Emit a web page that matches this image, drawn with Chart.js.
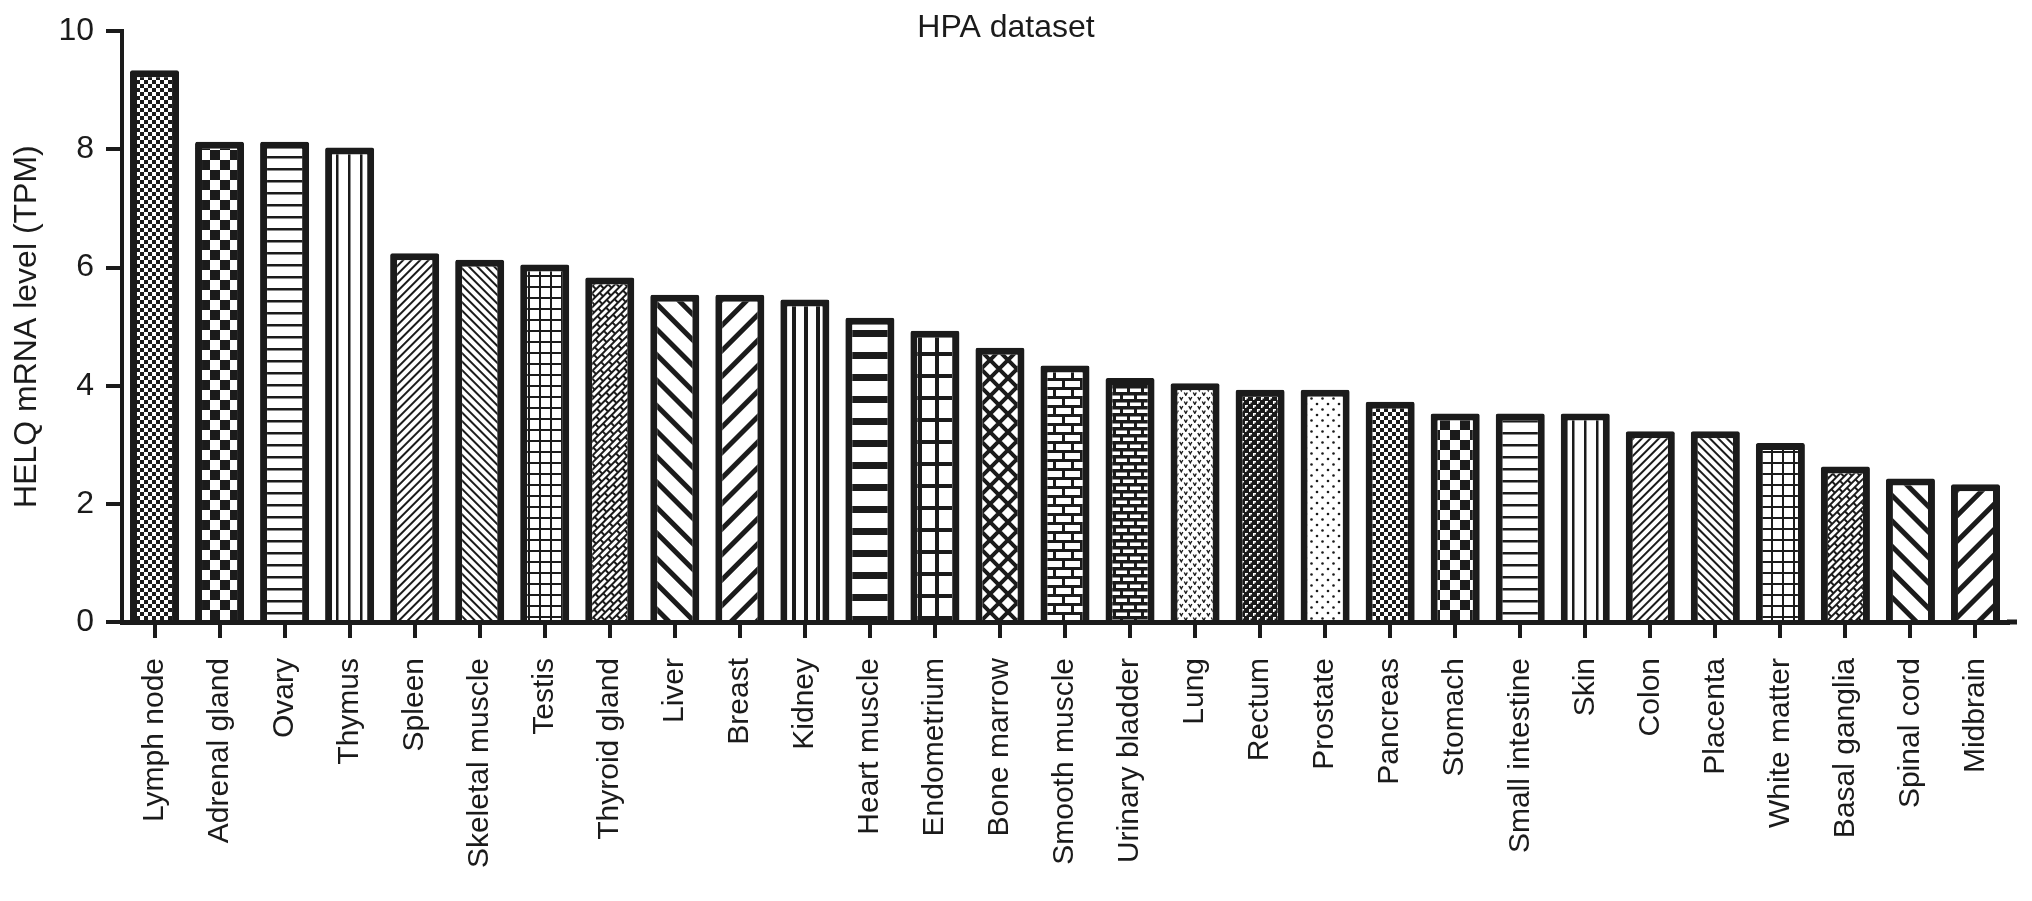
<!DOCTYPE html>
<html>
<head>
<meta charset="utf-8">
<script src="https://cdn.jsdelivr.net/npm/chart.js@4.4.1/dist/chart.umd.min.js"></script>
<style>
  html, body { margin: 0; padding: 0; background: #fff; }
  #wrap { width: 2032px; height: 901px; position: relative; }
</style>
</head>
<body>
<div id="wrap"><canvas id="c"></canvas></div>
<script>
// ---- data ----
const categories = ['Lymph node','Adrenal gland','Ovary','Thymus','Spleen','Skeletal muscle','Testis','Thyroid gland','Liver','Breast','Kidney','Heart muscle','Endometrium','Bone marrow','Smooth muscle','Urinary bladder','Lung','Rectum','Prostate','Pancreas','Stomach','Small intestine','Skin','Colon','Placenta','White matter','Basal ganglia','Spinal cord','Midbrain'];
const values = [9.34, 8.13, 8.13, 8.03, 6.24, 6.13, 6.05, 5.83, 5.54, 5.54, 5.46, 5.15, 4.93, 4.64, 4.34, 4.13, 4.04, 3.93, 3.93, 3.73, 3.53, 3.53, 3.53, 3.23, 3.23, 3.03, 2.63, 2.43, 2.33];
const yTicks = [0, 2, 4, 6, 8, 10];
const chartTitle = 'HPA dataset';
const yTitle = 'HELQ mRNA level (TPM)';

// ---- styles ----
const INK = '#1b1b1b';
const FONT = "'Liberation Sans', Arial, sans-serif";
const canvas = document.getElementById('c');
const ctx = canvas.getContext('2d');

function tile(w, h, fn, bg) {
  const c = document.createElement('canvas'); c.width = w; c.height = h;
  const g = c.getContext('2d');
  g.fillStyle = bg || '#fff'; g.fillRect(0, 0, w, h);
  g.fillStyle = INK; g.strokeStyle = INK;
  fn(g, w, h);
  return c;
}
function pat(c, angle) {
  const p = ctx.createPattern(c, 'repeat');
  if (angle) p.setTransform(new DOMMatrix().rotate(angle));
  return p;
}
function diamondTile(s, lw) {
  return tile(s, s, g => {
    g.lineWidth = lw;
    g.beginPath();
    for (const k of [-1, 0, 1]) {
      g.moveTo(-s, -s + k * s); g.lineTo(2 * s, 2 * s + k * s);
      g.moveTo(-s, 2 * s + k * s); g.lineTo(2 * s, -s + k * s);
    }
    g.stroke();
  });
}
const patternList = [
  // 0 fine checker
  pat(tile(8, 8, g => { g.fillRect(0, 0, 4, 4); g.fillRect(4, 4, 4, 4); })),
  // 1 big checker
  pat(tile(20, 20, g => { g.fillRect(0, 0, 10, 10); g.fillRect(10, 10, 10, 10); })),
  // 2 horizontal thin lines
  pat(tile(4, 12, g => { g.fillRect(0, 0, 4, 2.5); })),
  // 3 vertical thin lines
  pat(tile(12, 4, g => { g.fillRect(0, 0, 2.5, 4); })),
  // 4 fine diag /
  pat(tile(4, 6, g => { g.fillRect(0, 0, 4, 2); }), -45),
  // 5 fine diag \
  pat(tile(4, 6, g => { g.fillRect(0, 0, 4, 2); }), 45),
  // 6 fine grid
  pat(tile(11, 11, g => { g.fillRect(0, 0, 11, 2); g.fillRect(0, 0, 2, 11); })),
  // 7 diagonal brick
  pat(tile(12, 10, g => { g.fillRect(0, 0, 12, 2); g.fillRect(0, 5, 12, 2); g.fillRect(0, 0, 2, 5); g.fillRect(6, 5, 2, 5); }), -45),
  // 8 wide diag \
  pat(tile(4, 18, g => { g.fillRect(0, 0, 4, 5); }), 45),
  // 9 wide diag /
  pat(tile(4, 18, g => { g.fillRect(0, 0, 4, 5); }), -45),
  // 10 thick vertical lines
  pat(tile(12, 4, g => { g.fillRect(0, 0, 4, 4); })),
  // 11 thick horizontal lines
  pat(tile(4, 22, g => { g.fillRect(0, 0, 4, 7); })),
  // 12 thick grid
  pat(tile(17, 22, g => { g.fillRect(0, 0, 17, 4); g.fillRect(0, 0, 4, 22); })),
  // 13 diamonds
  pat(diamondTile(18, 4)),
  // 14 brick
  pat(tile(18, 18, g => { g.fillRect(0, 0, 18, 3); g.fillRect(0, 9, 18, 3); g.fillRect(0, 0, 3, 9); g.fillRect(9, 9, 3, 9); })),
  // 15 small brick
  pat(tile(14, 14, g => { g.fillRect(0, 0, 14, 3.5); g.fillRect(0, 7, 14, 3.5); g.fillRect(0, 0, 3, 7); g.fillRect(7, 7, 3, 7); })),
  // 16 small v marks
  pat(tile(9, 9, g => {
    g.lineWidth = 1.4;
    g.beginPath();
    g.moveTo(0.8, 1); g.lineTo(2.3, 3.8); g.lineTo(3.8, 1);
    g.moveTo(5.3, 5.5); g.lineTo(6.8, 8.3); g.lineTo(8.3, 5.5);
    g.stroke();
  })),
  // 17 dark speckle
  pat(tile(8, 8, g => {
    g.fillStyle = '#fff';
    g.fillRect(1, 1, 3, 1.5); g.fillRect(1, 1, 1.5, 3);
    g.fillRect(5, 5, 3, 1.5); g.fillRect(5, 5, 1.5, 3);
  }, INK)),
  // 18 sparse dots
  pat(tile(11, 11, g => {
    g.beginPath(); g.arc(2.5, 2.5, 1.3, 0, Math.PI * 2); g.fill();
    g.beginPath(); g.arc(8, 8, 1.3, 0, Math.PI * 2); g.fill();
  }))
];
const barFills = categories.map((_, i) => patternList[i % patternList.length]);

const titlePlugin = {
  id: 'topTitle',
  afterDraw(chart) {
    const c = chart.ctx;
    c.save();
    c.fillStyle = INK;
    c.font = '32px ' + FONT;
    c.textAlign = 'center';
    c.textBaseline = 'alphabetic';
    c.fillText(chartTitle, chart.width / 2 - 10, 37);
    // small extension of x-axis line past the last category
    const a = chart.chartArea;
    c.fillRect(a.right - 1, a.bottom - 2.5, 10, 5);
    c.restore();
  }
};

new Chart(ctx, {
  type: 'bar',
  data: {
    labels: categories,
    datasets: [{
      data: values,
      backgroundColor: barFills,
      borderColor: INK,
      borderWidth: 7,
      borderSkipped: 'start',
      borderRadius: 2,
      barPercentage: 0.754,
      categoryPercentage: 1.0
    }]
  },
  options: {
    responsive: true,
    maintainAspectRatio: false,
    animation: false,
    events: [],
    layout: { padding: { top: 28, right: 24, bottom: 0, left: 0 } },
    plugins: { legend: { display: false }, tooltip: { enabled: false }, title: { display: false } },
    scales: {
      x: {
        offset: true,
        grid: { offset: false, drawOnChartArea: false, drawTicks: true, tickLength: 16, lineWidth: 4, color: INK },
        border: { display: true, width: 5, color: INK },
        ticks: { autoSkip: false, maxRotation: 90, minRotation: 90, padding: 20, color: INK, font: { family: FONT, size: 30 } },
        afterFit(s) { s.height = 279; }
      },
      y: {
        min: 0, max: 10,
        afterBuildTicks(s) { s.ticks = yTicks.map(v => ({ value: v })); },
        grid: { drawOnChartArea: false, drawTicks: true, tickLength: 16, lineWidth: 4, color: INK },
        border: { display: true, width: 4, color: INK },
        ticks: { padding: 12, color: INK, font: { family: FONT, size: 32 } },
        title: { display: true, text: yTitle, color: INK, font: { family: FONT, size: 32 }, padding: { top: 8, bottom: 0 } },
        afterFit(s) { s.width = 122; }
      }
    }
  },
  plugins: [titlePlugin]
});
</script>
</body>
</html>
